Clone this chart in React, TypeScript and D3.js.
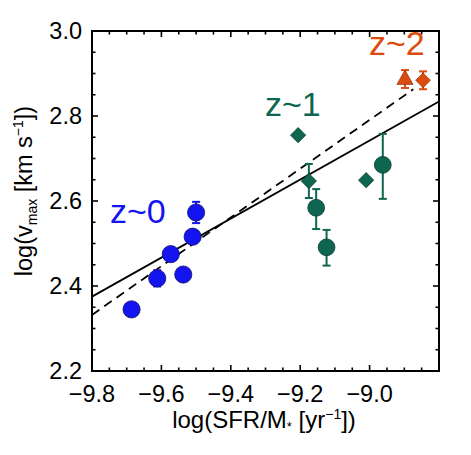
import React from 'react'
import * as d3 from 'd3'

// z~0 sample (blue circles)
const z0X = [-9.686, -9.612, -9.573, -9.537, -9.51, -9.5]
const z0Y = [2.345, 2.418, 2.475, 2.427, 2.516, 2.573]
const z0Err = [0, 0.019, 0, 0, 0, 0.025]

// z~1 sample, circles with asymmetric errors
const z1CircX = [-9.154, -9.124, -8.962]
const z1CircY = [2.584, 2.491, 2.685]
const z1CircErrHi = [0.044, 0.041, 0.073]
const z1CircErrLo = [0.05, 0.043, 0.08]

// z~1 sample, diamonds
const z1DiamX = [-9.206, -9.175, -9.01]
const z1DiamY = [2.755, 2.647, 2.649]
const z1DiamErr = [0, 0.04, 0]

// z~2 sample
const z2TriX = [-8.898]
const z2TriY = [2.887]
const z2TriErr = [0.021]
const z2DiamX = [-8.846]
const z2DiamY = [2.884]
const z2DiamErr = [0.021]

// fit lines (end points)
const solidFitX = [-9.8, -8.8]
const solidFitY = [2.375, 2.834]
const dashFitX = [-9.8, -8.874]
const dashFitY = [2.332, 2.863]

const xTicks = [-9.8, -9.6, -9.4, -9.2, -9.0]
const yTicks = [2.2, 2.4, 2.6, 2.8, 3.0]

const BLUE = '#1414f0'
const GREEN = '#0e6651'
const ORANGE = '#dc4a0e'
const FONT = '"Liberation Sans", Arial, Helvetica, sans-serif'

export default function App() {
  const left = 92, right = 439, top = 31, bottom = 371

  const x = d3.scaleLinear().domain([-9.8, -8.8]).range([left, right])
  const y = d3.scaleLinear().domain([2.2, 3.0]).range([bottom, top])

  const minorX = d3.range(0, 21).map(i => -9.8 + i * 0.05)
  const minorY = d3.range(0, 17).map(i => 2.2 + i * 0.05)

  const line = d3.line<[number, number]>().x(d => x(d[0])).y(d => y(d[1]))
  const solidPts = solidFitX.map((v, i) => [v, solidFitY[i]] as [number, number])
  const dashPts = dashFitX.map((v, i) => [v, dashFitY[i]] as [number, number])

  const fmt = (v: number) => v.toFixed(1).replace('-', '\u2212')

  const errBar = (cx: number, yLo: number, yHi: number, color: string, key: string) => (
    <g key={key} stroke={color} strokeWidth={2}>
      <line x1={x(cx)} x2={x(cx)} y1={y(yLo)} y2={y(yHi)} />
      <line x1={x(cx) - 4} x2={x(cx) + 4} y1={y(yLo)} y2={y(yLo)} />
      <line x1={x(cx) - 4} x2={x(cx) + 4} y1={y(yHi)} y2={y(yHi)} />
    </g>
  )

  const diamond = (px: number, py: number, r: number) =>
    `M${px},${py - r}L${px + r},${py}L${px},${py + r}L${px - r},${py}Z`
  const triangle = (px: number, py: number, r: number) =>
    `M${px},${py - r}L${px + r * 0.9},${py + r * 0.6}L${px - r * 0.9},${py + r * 0.6}Z`

  return (
    <svg width={471} height={455} style={{ position: 'absolute', left: 0, top: 0, background: '#fff' }}
      fontFamily={FONT}>
      {/* fit lines */}
      <path d={line(solidPts) || ''} fill="none" stroke="#000" strokeWidth={1.8} />
      <path d={line(dashPts) || ''} fill="none" stroke="#000" strokeWidth={1.8} strokeDasharray="9,6" />

      {/* z~0 */}
      {z0X.map((v, i) => z0Err[i] > 0 ? errBar(v, z0Y[i] - z0Err[i], z0Y[i] + z0Err[i], BLUE, 'e0' + i) : null)}
      {z0X.map((v, i) => (
        <circle key={'c0' + i} cx={x(v)} cy={y(z0Y[i])} r={8.6} fill={BLUE} stroke="#10106a" strokeWidth={0.8} />
      ))}

      {/* z~1 */}
      {z1CircX.map((v, i) => errBar(v, z1CircY[i] - z1CircErrLo[i], z1CircY[i] + z1CircErrHi[i], GREEN, 'e1c' + i))}
      {z1DiamX.map((v, i) => z1DiamErr[i] > 0 ? errBar(v, z1DiamY[i] - z1DiamErr[i], z1DiamY[i] + z1DiamErr[i], GREEN, 'e1d' + i) : null)}
      {z1CircX.map((v, i) => (
        <circle key={'c1' + i} cx={x(v)} cy={y(z1CircY[i])} r={8.4} fill={GREEN} stroke="#083a2e" strokeWidth={0.8} />
      ))}
      {z1DiamX.map((v, i) => (
        <path key={'d1' + i} d={diamond(x(v), y(z1DiamY[i]), 7.6)} fill={GREEN} stroke="#083a2e" strokeWidth={0.8} />
      ))}

      {/* z~2 */}
      {z2TriX.map((v, i) => errBar(v, z2TriY[i] - z2TriErr[i], z2TriY[i] + z2TriErr[i], ORANGE, 'e2t' + i))}
      {z2DiamX.map((v, i) => errBar(v, z2DiamY[i] - z2DiamErr[i], z2DiamY[i] + z2DiamErr[i], ORANGE, 'e2d' + i))}
      {z2TriX.map((v, i) => (
        <path key={'t2' + i} d={triangle(x(v), y(z2TriY[i]), 9)} fill={ORANGE} stroke="#7a2806" strokeWidth={0.6} />
      ))}
      {z2DiamX.map((v, i) => (
        <path key={'d2' + i} d={diamond(x(v), y(z2DiamY[i]), 7.4)} fill={ORANGE} stroke="#7a2806" strokeWidth={0.6} />
      ))}

      {/* frame */}
      <rect x={left} y={top} width={right - left} height={bottom - top} fill="none" stroke="#000" strokeWidth={2} />

      {/* ticks */}
      <g stroke="#000" strokeWidth={1.6}>
        {minorX.map((v, i) => {
          const len = i % 4 === 0 ? 6 : 3.5
          return (
            <g key={'tx' + i}>
              <line x1={x(v)} x2={x(v)} y1={bottom} y2={bottom - len} />
              <line x1={x(v)} x2={x(v)} y1={top} y2={top + len} />
            </g>
          )
        })}
        {minorY.map((v, i) => {
          const len = i % 4 === 0 ? 6 : 3.5
          return (
            <g key={'ty' + i}>
              <line x1={left} x2={left + len} y1={y(v)} y2={y(v)} />
              <line x1={right} x2={right - len} y1={y(v)} y2={y(v)} />
            </g>
          )
        })}
      </g>

      {/* tick labels */}
      <g fontSize={23.5} fill="#000">
        {xTicks.map(v => (
          <text key={'lx' + v} x={x(v)} y={401.5} textAnchor="middle">{fmt(v)}</text>
        ))}
        {yTicks.map(v => (
          <text key={'ly' + v} x={82} y={y(v) + 8} textAnchor="end">{fmt(v)}</text>
        ))}
      </g>

      {/* axis titles */}
      <text x={264} y={428} textAnchor="middle" fontSize={24} fill="#000">
        log(SFR/M<tspan fontSize={13} dy={3}>*</tspan><tspan dy={-3}> [yr</tspan>
        <tspan fontSize={14} dy={-9}>{'\u22121'}</tspan><tspan dy={9}>])</tspan>
      </text>
      <text transform="translate(32,191) rotate(-90)" textAnchor="middle" fontSize={23.5} fill="#000">
        log(v<tspan fontSize={14} dy={5}>max</tspan><tspan dy={-5}> [km s</tspan>
        <tspan fontSize={14} dy={-9}>{'\u22121'}</tspan><tspan dy={9}>])</tspan>
      </text>

      {/* redshift labels */}
      <text x={110} y={222.5} fontSize={34} fill={BLUE}>z~0</text>
      <text x={265} y={116} fontSize={34} fill={GREEN}>z~1</text>
      <text x={369} y={55} fontSize={34} fill={ORANGE}>z~2</text>
    </svg>
  )
}
